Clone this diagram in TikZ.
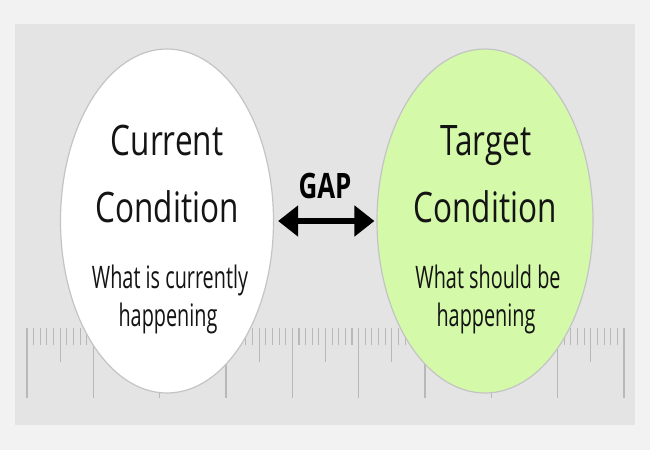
\documentclass[tikz,border=0pt]{standalone}
\usepackage{fontspec}
\setmainfont{Open Sans}
\usetikzlibrary{shapes.geometric,arrows.meta}
\definecolor{outerbg}{HTML}{F2F2F2}
\definecolor{innerbg}{HTML}{E4E4E4}
\definecolor{tickgray}{HTML}{B8B8B8}
\definecolor{ringgray}{HTML}{C4C4C4}
\definecolor{targetgreen}{HTML}{D3F9A9}
\definecolor{inkblack}{HTML}{141414}
\tikzset{
  condition/.style={ellipse, draw=ringgray, line width=1.2pt, inner sep=0pt,
    minimum width=213pt, minimum height=344pt},
  titletext/.style={anchor=base, inner sep=0pt, text=inkblack, xscale=0.75,
    font=\fontsize{42}{46}\selectfont},
  subtext/.style={anchor=base, inner sep=0pt, text=inkblack, xscale=0.64,
    font=\fontsize{31}{34}\selectfont},
  gaptext/.style={anchor=base, inner sep=0pt, text=black, xscale=0.74,
    font=\bfseries\fontsize{35}{38}\selectfont},
  gaparrow/.style={line width=5.5pt, black,
    {Triangle[length=20pt,width=30pt]}-{Triangle[length=20pt,width=30pt]}},
  tick/.style={draw=tickgray, line width=1.1pt}
}
\begin{document}
\begin{tikzpicture}[x=1pt,y=-1pt]
\useasboundingbox (0,0) rectangle (650,450);
\fill[outerbg] (0,0) rectangle (650,450);
\fill[innerbg] (15,24) rectangle (635,425);
% ruler ticks
\foreach \k in {0,...,90}{
  \pgfmathsetmacro{\xx}{27+6.633*\k}
  \pgfmathtruncatemacro{\mten}{mod(\k,10)}
  \pgfmathtruncatemacro{\mfive}{mod(\k,5)}
  \ifnum\mten=0
    \draw[tick] (\xx,328) -- (\xx,398);
  \else\ifnum\mfive=0
    \draw[tick] (\xx,328) -- (\xx,362);
  \else
    \draw[tick] (\xx,328) -- (\xx,345);
  \fi\fi
}
\node[condition, fill=white] (cur) at (167,221) {};
\node[condition, fill=targetgreen, minimum width=216pt] (tgt) at (485,221) {};
\node[titletext] (cur1) at (167,155) {Current};
\node[titletext] (cur2) at (167,222) {Condition};
\node[subtext] (cur3) at (170,288) {What is currently};
\node[subtext] (cur4) at (168,326) {happening};
\node[titletext] (tgt1) at (486,155) {Target};
\node[titletext] (tgt2) at (485,222) {Condition};
\node[subtext] (tgt3) at (488,288) {What should be};
\node[subtext] (tgt4) at (486,326) {happening};
\node[gaptext] (gap) at (325,198) {GAP};
\draw[gaparrow, shorten <=4pt, shorten >=2pt] (cur.east) -- (tgt.west);
\end{tikzpicture}
\end{document}
